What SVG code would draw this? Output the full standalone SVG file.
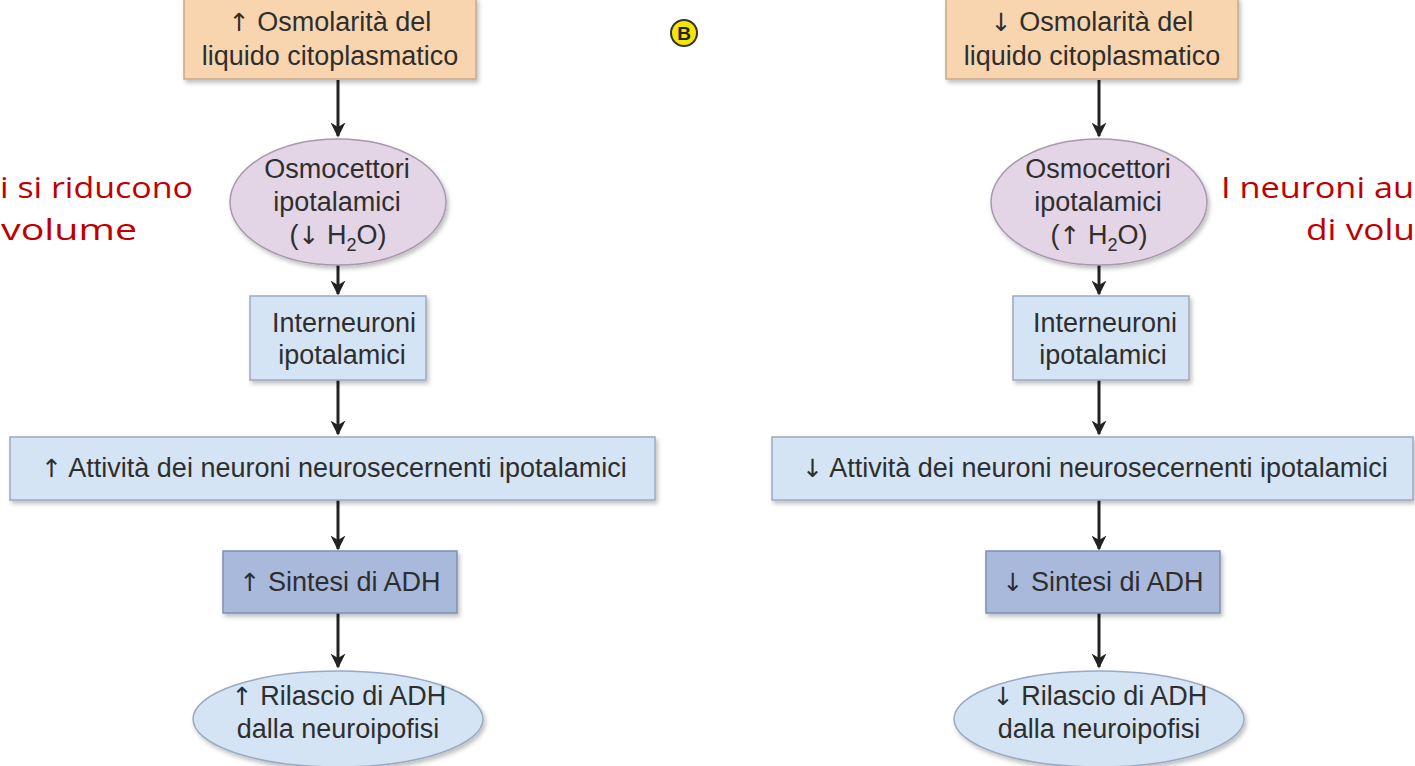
<svg xmlns="http://www.w3.org/2000/svg" width="1415" height="766" viewBox="0 0 1415 766">
<style>
.t{font-family:"Liberation Sans",Arial,sans-serif;font-size:27px;fill:#2e2e2e;text-anchor:middle}
.ar{font-family:"DejaVu Sans",sans-serif;font-size:25px}
.red{font-family:"Open Sans","DejaVu Sans",sans-serif;font-size:30px;fill:#c00000}
.peach{fill:#f8d5ae;stroke:#c8a88a;stroke-width:1.5}
.lav{fill:#e3d4e6;stroke:#a898ad;stroke-width:1.5}
.blue{fill:#d4e4f4;stroke:#9aaac2;stroke-width:1.5}
.dblue{fill:#a9b9dc;stroke:#7f8fb3;stroke-width:1.5}
.conn line{stroke:#222;stroke-width:3}
</style>
<defs>
<marker id="ah" viewBox="0 0 10 10" refX="9" refY="5" markerWidth="5" markerHeight="5" orient="auto" markerUnits="strokeWidth">
<path d="M0,0 L10,5 L0,10 L3,5 Z" fill="#222"/>
</marker>
<filter id="sh" x="-5%" y="-5%" width="112%" height="120%">
<feDropShadow dx="2" dy="3" stdDeviation="2" flood-color="#000" flood-opacity="0.25"/>
</filter>
</defs>
<rect width="1415" height="766" fill="#fff"/>

<g id="badge">
<circle cx="684" cy="33" r="13" fill="#f4e600" stroke="#333" stroke-width="2"/>
<text x="684" y="40" font-family="Liberation Sans,Arial,sans-serif" font-weight="bold" font-size="19" text-anchor="middle" fill="#222">B</text>
</g>

<g id="note-left">
<text class="red" x="0" y="198" textLength="193" lengthAdjust="spacingAndGlyphs">i si riducono</text>
<text class="red" x="1" y="240" textLength="136" lengthAdjust="spacingAndGlyphs">volume</text>
</g>
<g id="note-right">
<text class="red" x="1221" y="198" textLength="193" lengthAdjust="spacingAndGlyphs">I neuroni au</text>
<text class="red" x="1306" y="240" textLength="109" lengthAdjust="spacingAndGlyphs">di volu</text>
</g>

<g class="conn" id="connectors">
<line x1="338" y1="80" x2="338" y2="136" marker-end="url(#ah)"/>
<line x1="338" y1="265" x2="338" y2="294" marker-end="url(#ah)"/>
<line x1="338" y1="380" x2="338" y2="434" marker-end="url(#ah)"/>
<line x1="338" y1="500" x2="338" y2="549" marker-end="url(#ah)"/>
<line x1="338" y1="613" x2="338" y2="667" marker-end="url(#ah)"/>
<line x1="1099" y1="80" x2="1099" y2="136" marker-end="url(#ah)"/>
<line x1="1099" y1="265" x2="1099" y2="294" marker-end="url(#ah)"/>
<line x1="1099" y1="380" x2="1099" y2="434" marker-end="url(#ah)"/>
<line x1="1099" y1="500" x2="1099" y2="549" marker-end="url(#ah)"/>
<line x1="1099" y1="613" x2="1099" y2="667" marker-end="url(#ah)"/>
</g>

<g id="L-osm">
<rect class="peach" x="184" y="-2" width="292" height="81" filter="url(#sh)"/>
<text class="t" x="330" y="31"><tspan class="ar">↑</tspan> Osmolarità del</text>
<text class="t" x="330" y="65">liquido citoplasmatico</text>
</g>
<g id="L-osmocettori">
<ellipse class="lav" cx="338" cy="202" rx="108" ry="63" filter="url(#sh)"/>
<text class="t" x="337" y="178">Osmocettori</text>
<text class="t" x="337" y="211">ipotalamici</text>
<text class="t" x="338" y="244">(<tspan class="ar">↓</tspan> H<tspan font-size="18" dy="7">2</tspan><tspan dy="-7">O)</tspan></text>
</g>
<g id="L-inter">
<rect class="blue" x="250" y="296" width="176" height="84" filter="url(#sh)"/>
<text class="t" x="344" y="332">Interneuroni</text>
<text class="t" x="342" y="364">ipotalamici</text>
</g>
<g id="L-att">
<rect class="blue" x="10" y="437" width="645" height="63" filter="url(#sh)"/>
<text class="t" x="334" y="477"><tspan class="ar">↑</tspan> Attività dei neuroni neurosecernenti ipotalamici</text>
</g>
<g id="L-sint">
<rect class="dblue" x="223" y="551" width="234" height="62" filter="url(#sh)"/>
<text class="t" x="340" y="591"><tspan class="ar">↑</tspan> Sintesi di ADH</text>
</g>
<g id="L-ril">
<ellipse class="blue" cx="338" cy="719" rx="145" ry="48" filter="url(#sh)"/>
<text class="t" x="339" y="705"><tspan class="ar">↑</tspan> Rilascio di ADH</text>
<text class="t" x="338" y="738">dalla neuroipofisi</text>
</g>

<g id="R-osm">
<rect class="peach" x="946" y="-2" width="292" height="81" filter="url(#sh)"/>
<text class="t" x="1092" y="31"><tspan class="ar">↓</tspan> Osmolarità del</text>
<text class="t" x="1092" y="65">liquido citoplasmatico</text>
</g>
<g id="R-osmocettori">
<ellipse class="lav" cx="1099" cy="202" rx="108" ry="63" filter="url(#sh)"/>
<text class="t" x="1098" y="178">Osmocettori</text>
<text class="t" x="1098" y="211">ipotalamici</text>
<text class="t" x="1099" y="244">(<tspan class="ar">↑</tspan> H<tspan font-size="18" dy="7">2</tspan><tspan dy="-7">O)</tspan></text>
</g>
<g id="R-inter">
<rect class="blue" x="1013" y="296" width="176" height="84" filter="url(#sh)"/>
<text class="t" x="1105" y="332">Interneuroni</text>
<text class="t" x="1103" y="364">ipotalamici</text>
</g>
<g id="R-att">
<rect class="blue" x="772" y="437" width="641" height="63" filter="url(#sh)"/>
<text class="t" x="1095" y="477"><tspan class="ar">↓</tspan> Attività dei neuroni neurosecernenti ipotalamici</text>
</g>
<g id="R-sint">
<rect class="dblue" x="986" y="551" width="234" height="62" filter="url(#sh)"/>
<text class="t" x="1103" y="591"><tspan class="ar">↓</tspan> Sintesi di ADH</text>
</g>
<g id="R-ril">
<ellipse class="blue" cx="1099" cy="719" rx="145" ry="48" filter="url(#sh)"/>
<text class="t" x="1100" y="705"><tspan class="ar">↓</tspan> Rilascio di ADH</text>
<text class="t" x="1099" y="738">dalla neuroipofisi</text>
</g>
</svg>
